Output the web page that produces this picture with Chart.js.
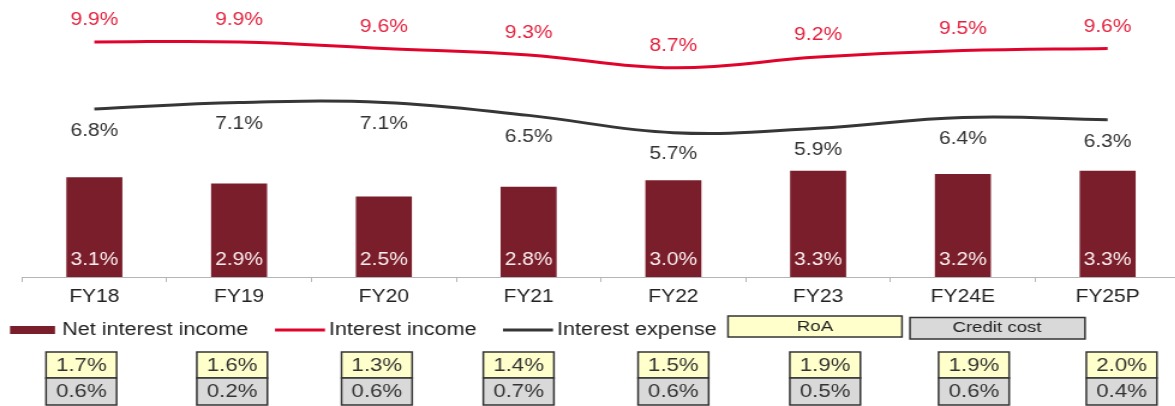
<!DOCTYPE html>
<html>
<head>
<meta charset="utf-8">
<script src="https://cdn.jsdelivr.net/npm/chart.js@4.4.1/dist/chart.umd.min.js"></script>
<style>
html, body { margin: 0; padding: 0; background: #fff; overflow: hidden; }
#wrap { width: 1175px; height: 406px; overflow: hidden; }
</style>
</head>
<body>
<div id="wrap"><canvas id="myChart" width="988" height="406" style="width:1186px;height:406px"></canvas></div>
<script>
// data
var years = ["FY18", "FY19", "FY20", "FY21", "FY22", "FY23", "FY24E", "FY25P"];
var netInterestIncome = [3.1, 2.9, 2.5, 2.8, 3.0, 3.3, 3.2, 3.3];
var interestIncome = [9.9, 9.9, 9.6, 9.3, 8.7, 9.2, 9.5, 9.6];
var interestExpense = [6.8, 7.1, 7.1, 6.5, 5.7, 5.9, 6.4, 6.3];
var roa = [1.7, 1.6, 1.3, 1.4, 1.5, 1.9, 1.9, 2.0];
var creditCost = [0.6, 0.2, 0.6, 0.7, 0.6, 0.5, 0.6, 0.4];

// the original picture is a bit stretched sideways, so the canvas is too
var S = 1186 / 988;
function sx(x) { return x / S; }
var FONT = '"Liberation Sans", Arial, sans-serif';
var barColor = "#7a1e2b";
var redColor = "#e0042c";
var darkColor = "#363636";
// little sideways shift of the RoA / credit cost boxes (screen px)
var boxNudge = [-13, -7, -7, -10, 0, 7, 11, 14];

function pct(v) { return v.toFixed(1) + "%"; }

var labelPlugin = {
  id: 'valueLabels',
  afterDatasetsDraw: function(chart) {
    var ctx = chart.ctx;
    var bottom = chart.chartArea.bottom;
    ctx.save();
    ctx.textAlign = 'center';
    ctx.textBaseline = 'middle';
    ctx.font = '17.5px ' + FONT;

    chart.getDatasetMeta(0).data.forEach(function(bar, i) {
      ctx.fillStyle = '#fbeff0';
      ctx.fillText(pct(netInterestIncome[i]), bar.x, bottom - 17);
    });
    chart.getDatasetMeta(1).data.forEach(function(pt, i) {
      ctx.fillStyle = '#e4213d';
      ctx.fillText(pct(interestIncome[i]), pt.x, pt.y - 21.5);
    });
    chart.getDatasetMeta(2).data.forEach(function(pt, i) {
      ctx.fillStyle = '#333';
      ctx.fillText(pct(interestExpense[i]), pt.x, pt.y + 22);
    });
    ctx.restore();
  }
};

function box(ctx, x, y, w, h, fill) {
  ctx.fillStyle = fill;
  ctx.fillRect(x, y, w, h);
  ctx.strokeStyle = '#333';
  ctx.lineWidth = 1.5;
  ctx.strokeRect(x, y, w, h);
}

var bottomPlugin = {
  id: 'legendAndBoxes',
  afterDraw: function(chart) {
    var ctx = chart.ctx;
    ctx.save();
    ctx.textBaseline = 'middle';

    // legend row
    ctx.font = '18px ' + FONT;
    ctx.fillStyle = barColor;
    ctx.fillRect(sx(10), 326, sx(45), 8);
    ctx.fillStyle = '#222';
    ctx.textAlign = 'left';
    ctx.fillText("Net interest income", sx(62), 330);

    ctx.lineWidth = 3;
    ctx.strokeStyle = redColor;
    ctx.beginPath(); ctx.moveTo(sx(275), 330); ctx.lineTo(sx(325), 330); ctx.stroke();
    ctx.fillText("Interest income", sx(329), 330);

    ctx.strokeStyle = darkColor;
    ctx.beginPath(); ctx.moveTo(sx(503), 330); ctx.lineTo(sx(553), 330); ctx.stroke();
    ctx.fillText("Interest expense", sx(557), 330);

    box(ctx, sx(728), 316, sx(174), 21, '#ffffcc');
    box(ctx, sx(910), 317.5, sx(175), 21.5, '#d9d9d9');
    ctx.font = '15.5px ' + FONT;
    ctx.textAlign = 'center';
    ctx.fillStyle = '#222';
    ctx.fillText("RoA", sx(815), 326.5);
    ctx.fillText("Credit cost", sx(997), 328);

    // RoA and credit cost per year
    var xs = chart.scales.x;
    var w = sx(70.6);
    ctx.font = '18.5px ' + FONT;
    years.forEach(function(y, i) {
      var cx = xs.getPixelForValue(i) + sx(boxNudge[i]);
      box(ctx, cx - w / 2, 352, w, 26, '#ffffcc');
      box(ctx, cx - w / 2, 378, w, 27, '#d9d9d9');
      ctx.fillStyle = '#333';
      ctx.fillText(pct(roa[i]), cx, 365.5);
      ctx.fillText(pct(creditCost[i]), cx, 392);
    });
    ctx.restore();
  }
};

var ctx = document.getElementById("myChart").getContext('2d');
var myChart = new Chart(ctx, {
  type: 'bar',
  data: {
    labels: years,
    datasets: [{
      label: "Net interest income",
      data: netInterestIncome,
      backgroundColor: barColor,
      barPercentage: 0.387,
      categoryPercentage: 1,
      yAxisID: 'y',
      order: 2
    }, {
      type: 'line',
      label: "Interest income",
      data: interestIncome,
      borderColor: redColor,
      borderWidth: 3,
      pointRadius: 0,
      tension: 0.4,
      fill: false,
      yAxisID: 'y2',
      order: 1
    }, {
      type: 'line',
      label: "Interest expense",
      data: interestExpense,
      borderColor: darkColor,
      borderWidth: 3,
      pointRadius: 0,
      tension: 0.4,
      fill: false,
      yAxisID: 'y2',
      order: 1
    }]
  },
  options: {
    responsive: false,
    devicePixelRatio: 1,
    animation: false,
    layout: { padding: { left: 18.3, right: 5, top: 0, bottom: 99 } },
    plugins: {
      legend: { display: false },
      tooltip: { enabled: false }
    },
    scales: {
      x: {
        offset: true,
        grid: { offset: true, drawOnChartArea: false, tickLength: 5, color: '#b5b5b5' },
        border: { color: '#b5b5b5' },
        ticks: { color: '#222', font: { family: FONT, size: 17.5 }, padding: 5 },
        afterFit: function(scale) { scale.height = 30; }
      },
      y: { display: false, min: 0, max: 8.6 },
      y2: { display: false, min: -0.98, max: 11.84 }
    }
  },
  plugins: [labelPlugin, bottomPlugin]
});
</script>
</body>
</html>
